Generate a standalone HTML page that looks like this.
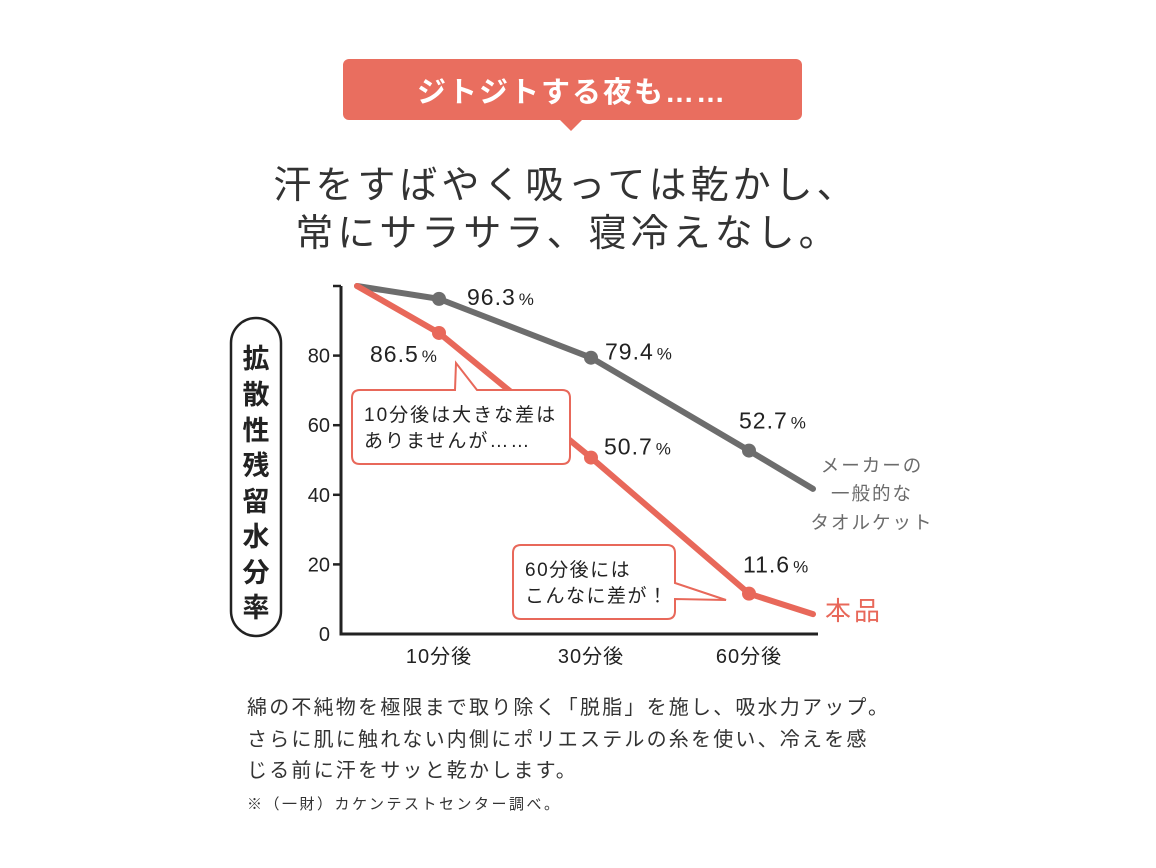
<!DOCTYPE html>
<html><head><meta charset="utf-8">
<style>
body{margin:0;width:1156px;height:868px;background:#fff;overflow:hidden;font-family:"Liberation Sans","Noto Sans CJK JP",sans-serif;}
svg{display:block}
</style></head><body>
<svg id="c" width="1156" height="868" viewBox="0 0 1156 868">
<g>
<rect x="343" y="59" width="459" height="61" rx="6" fill="#e96e5f"/>
<polygon points="559,119 583,119 571,131" fill="#e96e5f"/>
<text x="572" y="102" text-anchor="middle" font-size="29" fill="#fff" font-weight="bold" letter-spacing="2">ジトジトする夜も……</text>
</g>
<g font-size="38" fill="#333" text-anchor="middle" letter-spacing="4">
<text x="566" y="198">汗をすばやく吸っては乾かし、</text>
<text x="568" y="246">常にサラサラ、寝冷えなし。</text>
</g>
<g>
<rect x="231" y="318" width="50" height="318" rx="25" fill="none" stroke="#222" stroke-width="2.5"/>
<text x="256" font-size="27" font-weight="bold" fill="#222" text-anchor="middle">
<tspan x="256" y="368">拡</tspan><tspan x="256" y="404">散</tspan><tspan x="256" y="440">性</tspan><tspan x="256" y="475">残</tspan><tspan x="256" y="511">留</tspan><tspan x="256" y="546">水</tspan><tspan x="256" y="582">分</tspan><tspan x="256" y="617">率</tspan>
</text>
</g>
<g id="axes"></g>
<g id="lines"></g>
<g>
<path d="M360,390 H455 L456,363 L477,390 H562 Q570,390 570,398 V456 Q570,464 562,464 H360 Q352,464 352,456 V398 Q352,390 360,390 Z" fill="#fff" stroke="#e8685a" stroke-width="2"/>
<text font-size="19" fill="#222" letter-spacing="2"><tspan x="364" y="421">10分後は大きな差は</tspan><tspan x="364" y="447">ありませんが……</tspan></text>
</g>
<g>
<path d="M521,545 H667 Q675,545 675,553 V583 L726,600 L675,599 V611 Q675,619 667,619 H521 Q513,619 513,611 V553 Q513,545 521,545 Z" fill="#fff" stroke="#e8685a" stroke-width="2"/>
<text font-size="19" fill="#222" letter-spacing="1.5"><tspan x="525" y="576">60分後には</tspan><tspan x="525" y="602">こんなに差が！</tspan></text>
</g>
<g font-size="18.5" fill="#6b6b6b" text-anchor="middle" letter-spacing="2">
<text x="872" y="472">メーカーの</text>
<text x="872" y="500">一般的な</text>
<text x="872" y="529">タオルケット</text>
</g>
<text x="825" y="620" font-size="26" fill="#e8685a" letter-spacing="3">本品</text>
<g font-size="20" fill="#333" letter-spacing="2.2">
<text x="247" y="714">綿の不純物を極限まで取り除く「脱脂」を施し、吸水力アップ。</text>
<text x="247" y="746">さらに肌に触れない内側にポリエステルの糸を使い、冷えを感</text>
<text x="247" y="777">じる前に汗をサッと乾かします。</text>
</g>
<text x="247" y="809" font-size="15" fill="#333" letter-spacing="2.5">※（一財）カケンテストセンター調べ。</text>
</svg>
<script>
const categories=["0","10分後","30分後","60分後","end"];
const towelValues=[100,96.3,79.4,52.7,41.7];
const productValues=[100,86.5,50.7,11.6,5.7];
const yTicks=[0,20,40,60,80];
const towelLabels=["","96.3","79.4","52.7",""];
const productLabels=["","86.5","50.7","11.6",""];
const xLabels=["","10分後","30分後","60分後",""];
const xPos=[357,439,591,749,813];
function x(i){return xPos[i];}
function y(v){return 634-v*3.48;}
const NS="http://www.w3.org/2000/svg";
function mk(t,a,p){const e=document.createElementNS(NS,t);for(const k in a)e.setAttribute(k,a[k]);p.appendChild(e);return e;}
const ax=document.getElementById('axes');
let e=mk('path',{d:`M341,${y(100)} V634 H818`,fill:'none',stroke:'#222','stroke-width':3},ax);


e=mk('line',{x1:333,x2:341,y1:y(100),y2:y(100),stroke:'#222','stroke-width':2.5},ax);


yTicks.forEach(v=>{
  if(v>0){const t=mk('line',{x1:333,x2:341,y1:y(v),y2:y(v),stroke:'#222','stroke-width':2.5},ax);
  
  }
  const l=mk('text',{x:330,y:y(v)+7,'font-size':20,'text-anchor':'end',fill:'#222'},ax);
  l.textContent=v;
  
  
});
xLabels.forEach((s,i)=>{if(!s)return;
  const l=mk('text',{x:x(i),y:663,'font-size':20,'text-anchor':'middle',fill:'#222','letter-spacing':1},ax);
  l.textContent=s;
  
  
});
const lg=document.getElementById('lines');
function series(vals,labels,color,name,offs){
  const p=mk('polyline',{points:vals.map((v,i)=>x(i)+','+y(v)).join(' '),fill:'none',stroke:color,'stroke-width':6,'stroke-linejoin':'round','stroke-linecap':'round'},lg);
  
  
  vals.forEach((v,i)=>{if(!labels[i])return;
    const c=mk('circle',{cx:x(i),cy:y(v),r:7,fill:color},lg);
    
    
    const t=mk('text',{x:x(i)+offs[i][0],y:y(v)+offs[i][1],'font-size':23,fill:'#222','letter-spacing':1},lg);
    
    
    t.textContent=labels[i];
    const ps=document.createElementNS(NS,'tspan');ps.setAttribute('font-size','17');ps.setAttribute('dx','3');ps.textContent='%';t.appendChild(ps);
  });
}
series(towelValues,towelLabels,'#6d6d6d','towel',[[0,0],[28,6],[14,2],[-10,-22],[0,0]]);
series(productValues,productLabels,'#e8685a','product',[[0,0],[-69,29],[13,-3],[-6,-21],[0,0]]);
</script>
</body></html>
